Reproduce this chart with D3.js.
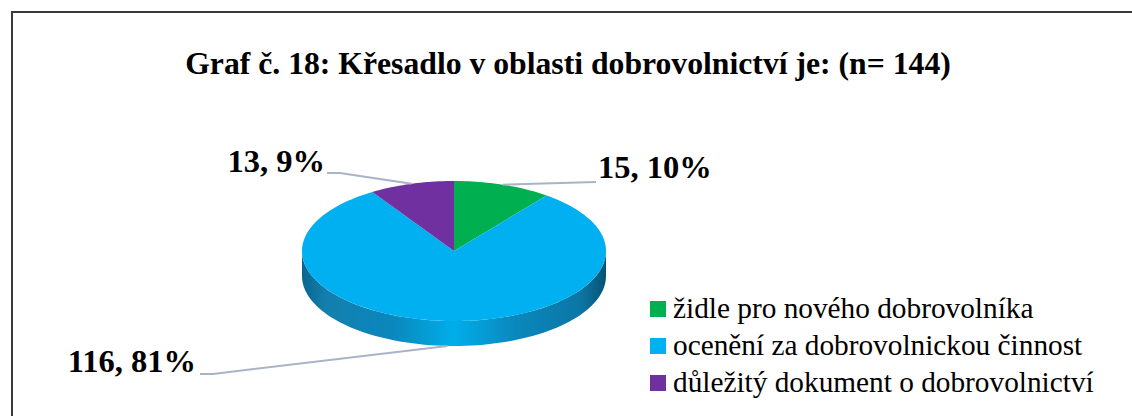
<!DOCTYPE html>
<html><head><meta charset="utf-8">
<script src="https://cdn.jsdelivr.net/npm/d3@7"></script>
<style>html,body{margin:0;padding:0;background:#fff;}svg{display:block;}</style>
</head><body>
<svg id="chart" width="1132" height="416"></svg>
<script>
// ---- data ----
const categories = ["židle pro nového dobrovolníka", "ocenění za dobrovolnickou činnost", "důležitý dokument o dobrovolnictví"];
const values = [15, 116, 13];
const colors = ["#00B050", "#00B0F0", "#7030A0"];
const titleText = "Graf č. 18: Křesadlo v oblasti dobrovolnictví je: (n= 144)";

// ---- layout ----
const W = 1132, H = 416;
const svg = d3.select("#chart");
const cx = 454, cy = 251, rx = 152, ry = 70, depth = 25;
const total = d3.sum(values);
const serif = "'Liberation Serif','Times New Roman',serif";

// frame
svg.append("rect").attr("x", 12).attr("y", 12).attr("width", W + 20).attr("height", H + 20)
  .attr("fill", "#fff").attr("stroke", "#3a3a3a").attr("stroke-width", 2);

// title
svg.append("text").attr("x", 568).attr("y", 74).attr("text-anchor", "middle")
  .attr("font-family", serif).attr("font-weight", "bold")
  .attr("font-size", 31.7).attr("fill", "#000").text(titleText);

const pie = d3.pie().sort(null).startAngle(0).endAngle(2 * Math.PI);
const arcs = pie(values);

const ex = a => cx + rx * Math.sin(a);
const ey = a => cy - ry * Math.cos(a);

// gradient for side
const defs = svg.append("defs");
const grad = defs.append("linearGradient").attr("id", "side").attr("x1", "0").attr("x2", "1").attr("y1", "0").attr("y2", "0");
[[0, "#0a6690"], [0.08, "#137fae"], [0.3, "#0a88bd"], [0.5, "#00aeea"], [0.7, "#0a88bd"], [0.92, "#0b76a4"], [1, "#065274"]]
  .forEach(([o, c]) => grad.append("stop").attr("offset", o).attr("stop-color", c));

// side of the cylinder (front half), belongs to the slices it covers
function sidePath(a0, a1) {
  const p = d3.path();
  const n = 80;
  const s = Math.max(a0, Math.PI / 2), e = Math.min(a1, 3 * Math.PI / 2);
  if (e <= s) return null;
  for (let i = 0; i <= n; i++) {
    const a = s + (e - s) * i / n;
    if (i === 0) p.moveTo(ex(a), ey(a)); else p.lineTo(ex(a), ey(a));
  }
  for (let i = n; i >= 0; i--) {
    const a = s + (e - s) * i / n;
    p.lineTo(ex(a), ey(a) + depth);
  }
  p.closePath();
  return p.toString();
}
arcs.forEach((d, i) => {
  const sp = sidePath(d.startAngle, d.endAngle);
  if (sp) svg.append("path").attr("d", sp).attr("fill", i === 1 ? "url(#side)" : d3.color(colors[i]).darker(0.8));
});

// top faces
function topPath(a0, a1) {
  const p = d3.path();
  p.moveTo(cx, cy);
  const n = Math.max(8, Math.ceil((a1 - a0) * 40));
  for (let i = 0; i <= n; i++) {
    const a = a0 + (a1 - a0) * i / n;
    p.lineTo(ex(a), ey(a));
  }
  p.closePath();
  return p.toString();
}
svg.selectAll("path.top").data(arcs).join("path").attr("class", "top")
  .attr("d", d => topPath(d.startAngle, d.endAngle))
  .attr("fill", (d, i) => colors[i]);

// labels with leader lines
const labelLayout = [
  { tx: 598, ty: 178, anchor: "start", pts: a => [[a[0], a[1]], [596, 182]] },
  { tx: 196, ty: 372, anchor: "end", pts: a => [[a[0], a[1] + depth], [213, 374], [200, 374]] },
  { tx: 325, ty: 172, anchor: "end", pts: a => [[a[0], a[1]], [340, 173], [327, 173]] }
];
arcs.forEach((d, i) => {
  const mid = (d.startAngle + d.endAngle) / 2;
  const anchor = [ex(mid), ey(mid)];
  const L = labelLayout[i];
  svg.append("path").attr("d", d3.line()(L.pts(anchor)))
    .attr("fill", "none").attr("stroke", "#a8b4c6").attr("stroke-width", 2);
  svg.append("text").attr("x", L.tx).attr("y", L.ty).attr("text-anchor", L.anchor)
    .attr("font-family", serif).attr("font-weight", "bold").attr("font-size", 32.5).attr("fill", "#000")
    .text(`${values[i]}, ${Math.round(values[i] / total * 100)}%`);
});

// legend
const leg = svg.append("g").attr("transform", "translate(650,301)");
categories.forEach((c, i) => {
  const g = leg.append("g").attr("transform", `translate(0,${i * 37})`);
  g.append("rect").attr("width", 16).attr("height", 16).attr("fill", colors[i]);
  g.append("text").attr("x", 23).attr("y", 17).attr("font-family", serif)
    .attr("font-size", 29.3).attr("fill", "#000").text(c);
});
</script>
</body></html>
